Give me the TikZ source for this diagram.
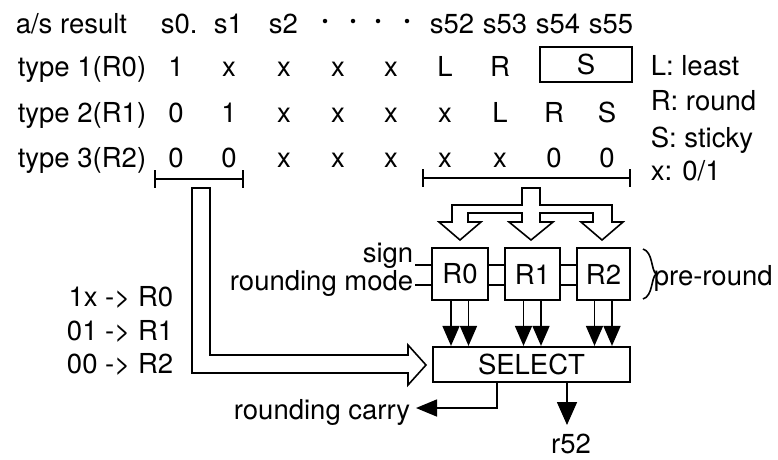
\documentclass[tikz,border=0pt]{standalone}
\usepackage{fontspec}
\setmainfont{TeX Gyre Heros}
\usetikzlibrary{arrows.meta,calc}
\begin{document}
\begin{tikzpicture}[x=1pt,y=-1pt,line width=1.6pt,
  txt/.style={font=\fontsize{27.5}{30}\selectfont, inner sep=0pt},
  bx/.style={draw, line width=2.2pt, inner sep=0pt, font=\fontsize{27.5}{30}\selectfont},
  dotmark/.style={circle, fill=black, inner sep=0pt, minimum size=4.5pt},
  tip/.style={-{Triangle[length=20pt,width=17pt]}},
  hollow/.style={draw, fill=white, line width=1.6pt, line join=miter}]
\useasboundingbox (0,0) rectangle (778,459);
% header
\node[txt,anchor=base west] (hA) at (15,33) {a/s result};
\node[txt,anchor=base west] (h0) at (160,33) {s0.};
\node[txt,anchor=base west] (h1) at (213,33) {s1};
\node[txt,anchor=base west] (h2) at (268,33) {s2};
\node[dotmark] (d1) at (325,21) {};
\node[dotmark] (d2) at (353,21) {};
\node[dotmark] (d3) at (378,21) {};
\node[dotmark] (d4) at (407,21) {};
\node[txt,anchor=base west] (h52) at (429,33) {s52};
\node[txt,anchor=base west] (h53) at (482,33) {s53};
\node[txt,anchor=base west] (h54) at (535,33) {s54};
\node[txt,anchor=base west] (h55) at (588,33) {s55};
% row labels
\node[txt,anchor=base west] (t1) at (17,76) {type 1(R0)};
\node[txt,anchor=base west] (t2) at (17,122) {type 2(R1)};
\node[txt,anchor=base west] (t3) at (17,167) {type 3(R2)};
% row 1
\node[txt,anchor=base] (a0) at (176,76) {1};
\node[txt,anchor=base] (a1) at (229,76) {x};
\node[txt,anchor=base] (a2) at (284,76) {x};
\node[txt,anchor=base] (a3) at (338,76) {x};
\node[txt,anchor=base] (a4) at (391,76) {x};
\node[txt,anchor=base] (a5) at (445,76) {L};
\node[txt,anchor=base] (a6) at (500,76) {R};
\node[bx,minimum width=92pt,minimum height=35pt] (aS) at (586,64.5) {S};
% row 2
\node[txt,anchor=base] (b0) at (176,122) {0};
\node[txt,anchor=base] (b1) at (229,122) {1};
\node[txt,anchor=base] (b2) at (284,122) {x};
\node[txt,anchor=base] (b3) at (338,122) {x};
\node[txt,anchor=base] (b4) at (391,122) {x};
\node[txt,anchor=base] (b5) at (445,122) {x};
\node[txt,anchor=base] (b6) at (500,122) {L};
\node[txt,anchor=base] (b7) at (554,122) {R};
\node[txt,anchor=base] (b8) at (607,122) {S};
% row 3
\node[txt,anchor=base] (c0) at (176,167) {0};
\node[txt,anchor=base] (c1) at (229,167) {0};
\node[txt,anchor=base] (c2) at (284,167) {x};
\node[txt,anchor=base] (c3) at (338,167) {x};
\node[txt,anchor=base] (c4) at (391,167) {x};
\node[txt,anchor=base] (c5) at (445,167) {x};
\node[txt,anchor=base] (c6) at (500,167) {x};
\node[txt,anchor=base] (c7) at (554,167) {0};
\node[txt,anchor=base] (c8) at (607,167) {0};
% legend
\node[txt,anchor=base west] (lg1) at (650,75) {L: least};
\node[txt,anchor=base west] (lg2) at (650,110) {R: round};
\node[txt,anchor=base west] (lg3) at (650,147) {S: sticky};
\node[txt,anchor=base west] (lg4) at (650,180) {x: 0/1};
% brackets
\coordinate (bl1) at (155,179);
\coordinate (bl2) at (243,179);
\coordinate (br1) at (423,178);
\coordinate (br2) at (630,178);
\draw (bl1) -- (bl2);
\draw ($(bl1)+(0,-9)$) -- ($(bl1)+(0,9)$);
\draw ($(bl2)+(0,-9)$) -- ($(bl2)+(0,9)$);
\draw (br1) -- (br2);
\draw ($(br1)+(0,-9)$) -- ($(br1)+(0,9)$);
\draw ($(br2)+(0,-9)$) -- ($(br2)+(0,9)$);
% hollow tree arrow
\draw[hollow] (522,188) -- (540,188) -- (540,205) -- (612,205) -- (612,222) -- (623,222) -- (602,240) -- (581,222) -- (593,222) -- (593,213) -- (540,213) -- (540,222) -- (553,222) -- (531,240) -- (509,222) -- (522,222) -- (522,213) -- (468,213) -- (468,222) -- (481,222) -- (460,240) -- (439,222) -- (452,222) -- (452,205) -- (522,205) -- cycle;
% R boxes
\node[bx,minimum width=56pt,minimum height=52pt] (R0) at (460,274) {R0};
\node[bx,minimum width=55pt,minimum height=52pt] (R1) at (532.5,274) {R1};
\node[bx,minimum width=53pt,minimum height=52pt] (R2) at (603.5,274) {R2};
\node[bx,minimum width=197pt,minimum height=35pt] (SEL) at (531.5,364.5) {SELECT};
% sign and rounding mode
\node[txt,anchor=base east] (sign) at (414,262) {sign};
\node[txt,anchor=base east] (rmode) at (414,290) {rounding mode};
\coordinate (signin) at (415,265);
\coordinate (modein) at (415,285);
\draw (signin) -- (signin -| R0.west);
\draw (modein) -- (modein -| R0.west);
\draw (R0.east |- signin) -- (R1.west |- signin);
\draw (R0.east |- modein) -- (R1.west |- modein);
\draw (R1.east |- signin) -- (R2.west |- signin);
\draw (R1.east |- modein) -- (R2.west |- modein);
% brace and pre-round
\draw (643,249) .. controls (653,252) and (651,270) .. (656,274) .. controls (651,278) and (653,296) .. (643,299);
\node[txt,anchor=base west] (pre) at (653,285) {pre-round};
% arrows to SELECT
\foreach \b in {R0,R1,R2}{
  \coordinate (\b l) at ($(\b.south)+(-9,0)$);
  \coordinate (\b r) at ($(\b.south)+(8.5,0)$);
  \draw[tip] (\b l) -- (\b l |- SEL.north);
  \draw[tip] (\b r) -- (\b r |- SEL.north);
}
% left hollow arrow
\draw[hollow] (192,188) -- (192,373) -- (408,373) -- (408,385) -- (426,365) -- (408,345) -- (408,355) -- (210,355) -- (210,188) -- cycle;
% selection labels
\node[txt,anchor=base east] (s1) at (174,306) {1x -> R0};
\node[txt,anchor=base east] (s2) at (174,340) {01 -> R1};
\node[txt,anchor=base east] (s3) at (174,373) {00 -> R2};
% outputs
\node[txt,anchor=base east] (carry) at (411,419) {rounding carry};
\coordinate (cturn) at (497,408);
\coordinate (ctip) at (416,408);
\draw[-{Triangle[length=21pt,width=17pt]}] (cturn |- SEL.south) -- (cturn) -- (ctip);
\coordinate (rtip) at (567,425);
\draw[-{Triangle[length=23pt,width=20pt]}] (rtip |- SEL.south) -- (rtip);
\node[txt,anchor=base] (r52) at (571,453) {r52};
\end{tikzpicture}
\end{document}
